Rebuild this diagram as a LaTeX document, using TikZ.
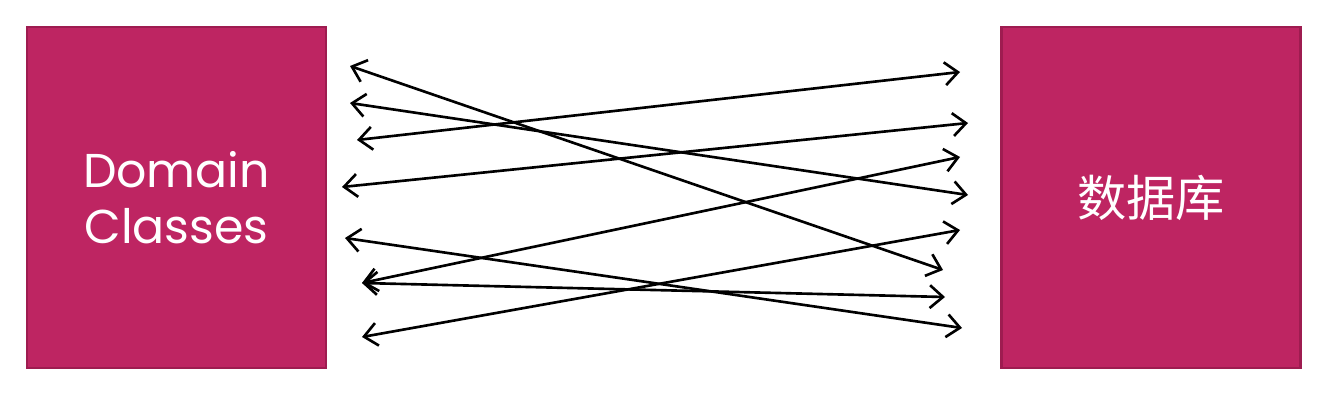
\documentclass[tikz,border=0pt]{standalone}
\usepackage{fontspec}
\setmainfont{Poppins}
\newfontfamily\cjk{Noto Sans CJK SC}
\usetikzlibrary{arrows.meta}

\definecolor{boxfill}{RGB}{190,37,98}
\definecolor{boxedge}{RGB}{158,28,80}

\begin{document}
\begin{tikzpicture}[x=0.02cm, y=-0.02cm,
        box/.style={draw=boxedge, fill=boxfill, line width=1.2pt, inner sep=0pt,
            minimum width=5.98cm, minimum height=6.82cm, text=white, align=center},
        link/.style={line width=1.5pt,
            {Straight Barb[length=7.5pt, width=13pt]}-{Straight Barb[length=7.5pt, width=13pt]}}]
            \useasboundingbox (0, 0) rectangle (1327, 409);
            \node[box, font=\fontsize{27}{32}\selectfont] (domain) at (176.5, 197.5) {Domain\\Classes};
            \node[box, font=\cjk\fontsize{28}{32}\selectfont] (db) at (1151, 197.5) {数据库};
            % left ends
            \coordinate (l1) at (350, 66);
            \coordinate (l2) at (350, 103);
            \coordinate (l3) at (357, 140);
            \coordinate (l4) at (342, 187);
            \coordinate (l5) at (345, 238);
            \coordinate (l6) at (362, 283);
            \coordinate (l7) at (362, 337);
            % right ends
            \coordinate (r1) at (960, 72);
            \coordinate (r2) at (968, 123);
            \coordinate (r3) at (960, 157);
            \coordinate (r4) at (968, 195);
            \coordinate (r5) at (960, 230);
            \coordinate (r6) at (943, 270);
            \coordinate (r7) at (945, 297);
            \coordinate (r8) at (962, 328);
            \draw[link] (l1)--(r6);
            \draw[link] (l2)--(r4);
            \draw[link] (l3)--(r1);
            \draw[link] (l4)--(r2);
            \draw[link] (l6)--(r3);
            \draw[link] (l6)--(r7);
            \draw[link] (l5)--(r8);
            \draw[link] (l7)--(r5);
        \end{tikzpicture}
\end{document}
